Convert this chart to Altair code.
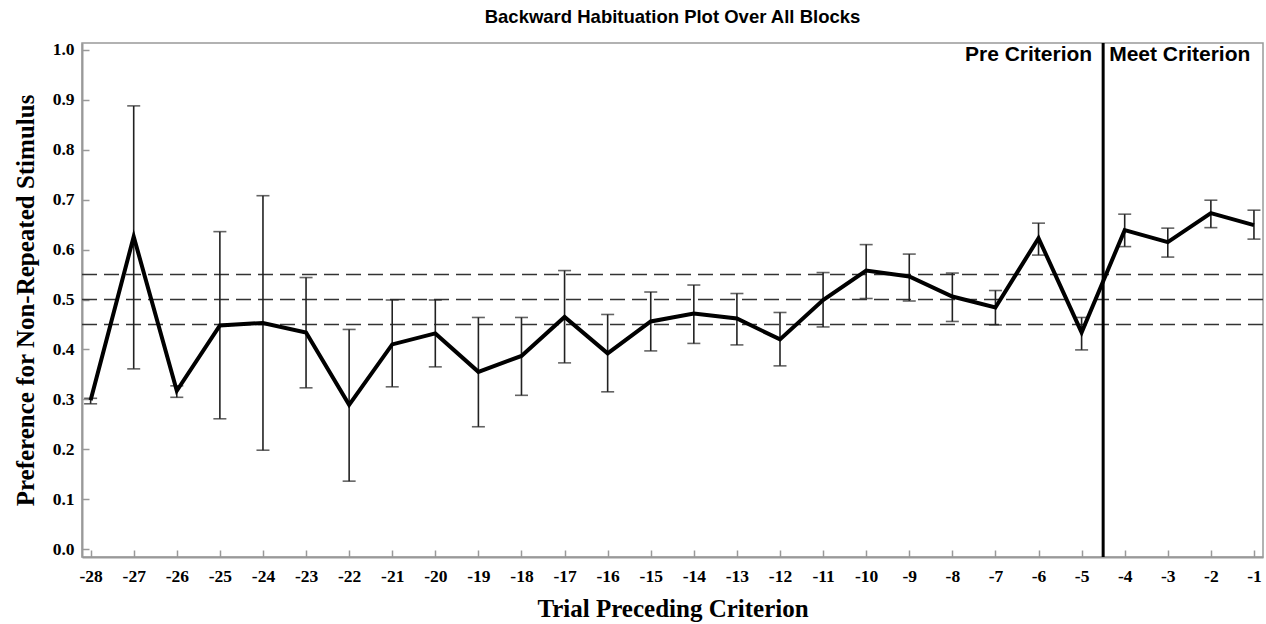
import altair as alt
import pandas as pd

trials = list(range(-28, 0))
means = [0.298, 0.626, 0.317, 0.448, 0.453, 0.434, 0.289, 0.410,
         0.432, 0.355, 0.387, 0.465, 0.392, 0.456, 0.472, 0.462,
         0.420, 0.499, 0.558, 0.546, 0.506, 0.484, 0.623, 0.434,
         0.639, 0.615, 0.673, 0.649]
upper = [0.302, 0.888, 0.327, 0.636, 0.708, 0.544, 0.440, 0.499,
         0.499, 0.464, 0.464, 0.558, 0.470, 0.515, 0.529, 0.512,
         0.474, 0.554, 0.610, 0.591, 0.553, 0.518, 0.653, 0.464,
         0.671, 0.643, 0.699, 0.679]
lower = [0.291, 0.361, 0.304, 0.261, 0.198, 0.323, 0.136, 0.325,
         0.365, 0.245, 0.308, 0.373, 0.315, 0.397, 0.412, 0.409,
         0.367, 0.445, 0.502, 0.497, 0.456, 0.449, 0.589, 0.399,
         0.606, 0.585, 0.644, 0.621]
ref_lines = [0.45, 0.50, 0.55]
criterion_x = [-4.5]
label_left = ["Pre Criterion"]
label_right = ["Meet Criterion"]
label_y = [0.99]

df = pd.DataFrame({"trial": trials, "mean": means, "hi": upper, "lo": lower})
ref_df = pd.DataFrame({"y": ref_lines})
crit_df = pd.DataFrame({"x": criterion_x})
lab_l = pd.DataFrame({"x": criterion_x, "y": label_y, "t": label_left})
lab_r = pd.DataFrame({"x": criterion_x, "y": label_y, "t": label_right})

serif = "Liberation Serif"
sans = "Liberation Sans"

xscale = alt.Scale(domain=[-28.2, -0.79], nice=False, zero=False)
yscale = alt.Scale(domain=[-0.016, 1.014], nice=False, zero=False)

xaxis = alt.Axis(values=trials, title="Trial Preceding Criterion",
                 labelExpr="'-' + abs(datum.value)",
                 labelFont=serif, labelFontSize=17.5, labelFontWeight="bold", labelColor="black",
                 titleFont=serif, titleFontSize=25, titleFontWeight="bold", titleColor="black",
                 tickSize={"expr": "-7"}, labelPadding=17, titlePadding=12,
                 domainColor="#999", tickColor="#999", domainWidth=2, tickWidth=1.5, grid=False,
                 labelFlush=False)
yaxis = alt.Axis(values=[i / 10 for i in range(11)], title="Preference for Non-Repeated Stimulus",
                 format=".1f",
                 labelFont=serif, labelFontSize=17.5, labelFontWeight="bold", labelColor="black",
                 titleFont=serif, titleFontSize=25, titleFontWeight="bold", titleColor="black",
                 tickSize={"expr": "-7"}, labelPadding=15, titlePadding=14,
                 domainColor="#999", tickColor="#999", domainWidth=2, tickWidth=1.5, grid=False,
                 labelFlush=False)

base = alt.Chart(df)

refs = alt.Chart(ref_df).mark_rule(color="#333", strokeDash=[15, 7], strokeWidth=1.6).encode(
    y=alt.Y("y:Q", scale=yscale, axis=yaxis)
)

err = base.mark_rule(color="#222", strokeWidth=1.6).encode(
    x=alt.X("trial:Q", scale=xscale, axis=xaxis),
    y=alt.Y("lo:Q", scale=yscale),
    y2="hi:Q",
)
cap_hi = base.mark_tick(color="#222", thickness=1.6, size=13, orient="horizontal").encode(
    x=alt.X("trial:Q", scale=xscale), y=alt.Y("hi:Q", scale=yscale)
)
cap_lo = base.mark_tick(color="#222", thickness=1.6, size=13, orient="horizontal").encode(
    x=alt.X("trial:Q", scale=xscale), y=alt.Y("lo:Q", scale=yscale)
)
line = base.mark_line(color="black", strokeWidth=4).encode(
    x=alt.X("trial:Q", scale=xscale), y=alt.Y("mean:Q", scale=yscale)
)
crit = alt.Chart(crit_df).mark_rule(color="black", strokeWidth=3).encode(
    x=alt.X("x:Q", scale=xscale)
)
tl = alt.Chart(lab_l).mark_text(font=sans, fontSize=21, fontWeight="bold", align="right",
                                baseline="middle", dx=-11, color="black").encode(
    x=alt.X("x:Q", scale=xscale), y=alt.Y("y:Q", scale=yscale), text="t:N"
)
tr = alt.Chart(lab_r).mark_text(font=sans, fontSize=21, fontWeight="bold", align="left",
                                baseline="middle", dx=6, color="black").encode(
    x=alt.X("x:Q", scale=xscale), y=alt.Y("y:Q", scale=yscale), text="t:N"
)

chart = alt.layer(refs, err, cap_hi, cap_lo, line, crit, tl, tr).properties(
    width=1181, height=514,
    title=alt.TitleParams("Backward Habituation Plot Over All Blocks", font=sans, fontSize=18.5,
                          fontWeight="bold", color="black", anchor="middle", offset=14),
    autosize=alt.AutoSizeParams(type="none"),
    padding={"left": 82, "top": 43, "right": 3, "bottom": 67},
    background="white",
).configure_view(stroke="#999", strokeWidth=1.5)

chart.save("out.html", embed_options={"renderer": "svg", "actions": False})
